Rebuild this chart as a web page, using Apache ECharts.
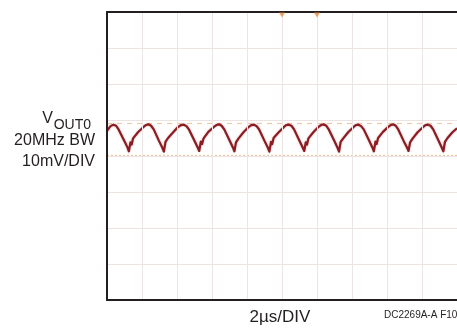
<!DOCTYPE html>
<html>
<head>
<meta charset="utf-8">
<script src="https://cdn.jsdelivr.net/npm/echarts@6/dist/echarts.min.js"></script>
<style>
html,body{margin:0;padding:0;background:#fff;}
#c{width:457px;height:331px;}
</style>
</head>
<body>
<div id="c"></div>
<script>
// time in microseconds (2 us/div), voltage in mV (10 mV/div)
var timeUs = [
 0.00, 0.20,
 0.37, 0.52, 0.67, 0.97, 1.17, 1.25, 1.34, 1.41, 1.49, 1.77, 2.07, 2.22,
 2.37, 2.52, 2.67, 2.97, 3.17, 3.25, 3.34, 3.41, 3.49, 3.77, 4.07, 4.24,
 4.39, 4.54, 4.69, 4.99, 5.19, 5.27, 5.36, 5.43, 5.51, 5.79, 6.09, 6.25,
 6.40, 6.55, 6.70, 7.00, 7.20, 7.28, 7.37, 7.44, 7.52, 7.80, 8.10, 8.25,
 8.40, 8.55, 8.70, 9.00, 9.20, 9.28, 9.37, 9.44, 9.52, 9.80, 10.10, 10.24,
 10.39, 10.54, 10.69, 10.99, 11.19, 11.27, 11.36, 11.43, 11.51, 11.79, 12.09, 12.23,
 12.38, 12.53, 12.68, 12.98, 13.18, 13.26, 13.35, 13.42, 13.50, 13.78, 14.08, 14.22,
 14.37, 14.52, 14.67, 14.97, 15.17, 15.25, 15.34, 15.41, 15.49, 15.77, 16.07, 16.21,
 16.35, 16.50, 16.65, 16.95, 17.15, 17.23, 17.32, 17.39, 17.47, 17.75, 18.05, 18.20,
 18.34, 18.49, 18.64, 18.94, 19.14, 19.22, 19.31, 19.38, 19.46, 19.74, 20.00
];
var voutMv = [
 7.0, 8.3,
 8.7, 8.4, 7.3, 4.4, 2.4, 1.3, 3.8, 3.2, 4.9, 6.6, 8.0, 8.6,
 8.8, 8.4, 7.4, 4.2, 2.2, 1.2, 3.9, 3.4, 5.0, 6.5, 8.1, 8.6,
 8.7, 8.3, 7.3, 4.3, 2.3, 1.4, 4.0, 3.3, 4.8, 6.7, 8.0, 8.6,
 8.8, 8.4, 7.4, 4.4, 2.3, 1.3, 3.8, 3.4, 4.9, 6.6, 8.1, 8.6,
 8.7, 8.3, 7.3, 4.2, 2.2, 1.2, 3.9, 3.3, 5.0, 6.5, 8.0, 8.6,
 8.7, 8.4, 7.4, 4.3, 2.3, 1.4, 3.8, 3.2, 4.9, 6.6, 8.1, 8.6,
 8.8, 8.4, 7.3, 4.3, 2.2, 1.2, 3.9, 3.4, 4.9, 6.6, 8.0, 8.6,
 8.7, 8.3, 7.4, 4.4, 2.3, 1.3, 4.0, 3.3, 5.0, 6.7, 8.1, 8.6,
 8.8, 8.4, 7.3, 4.2, 2.3, 1.4, 3.8, 3.3, 4.9, 6.6, 8.0, 8.6,
 8.7, 8.4, 7.4, 4.3, 2.2, 1.3, 3.9, 3.4, 5.0, 6.6, 7.7
];
var cursorUpperMv = 9.0;
var cursorLowerMv = 0.2;
var refLineMv = 10;
var triggerMarkersUs = [10, 12];
var xRange = [0, 20, 2];
var yRange = [-40, 40, 10];

var seriesData = timeUs.map(function (t, i) { return [t, voutMv[i]]; });
var markerData = triggerMarkersUs.map(function (t) { return [t, yRange[1]]; });

var chart = echarts.init(document.getElementById('c'), null, {renderer: 'canvas'});
var hLine = {show: true, lineStyle: {color: '#ece2df', width: 1}};
var vLine = {show: true, lineStyle: {color: '#ebe5e5', width: 1}};
var frame = {show: true, onZero: false, lineStyle: {color: '#231f20', width: 2}};
chart.setOption({
  animation: false,
  backgroundColor: '#ffffff',
  grid: {left: 107, top: 12, width: 353, height: 288, show: false},
  xAxis: [
    {type: 'value', position: 'bottom', min: xRange[0], max: xRange[1], interval: xRange[2],
      axisLine: frame, axisTick: {show: false}, axisLabel: {show: false}, splitLine: vLine, z: 10},
    {type: 'value', position: 'top', min: xRange[0], max: xRange[1], interval: xRange[2],
      axisLine: frame, axisTick: {show: false}, axisLabel: {show: false}, splitLine: {show: false}, z: 10}
  ],
  yAxis: {type: 'value', min: yRange[0], max: yRange[1], interval: yRange[2],
    axisLine: frame, axisTick: {show: false}, axisLabel: {show: false}, splitLine: hLine, z: 10},
  series: [
    {
      type: 'line', data: seriesData, showSymbol: false, symbol: 'none', silent: true,
      lineStyle: {color: '#8c1c22', width: 2.2, join: 'round', shadowColor: 'rgba(140,28,34,0.35)', shadowBlur: 2},
      z: 5,
      markLine: {
        silent: true, symbol: 'none', label: {show: false},
        data: [
          {yAxis: refLineMv, lineStyle: {color: '#d5e3ec', type: 'solid', width: 1}},
          {yAxis: cursorUpperMv, lineStyle: {color: '#f3c9a4', type: [5, 5], width: 1.2}},
          {yAxis: cursorLowerMv, lineStyle: {color: '#f3c9a4', type: [2, 2], width: 1.4}}
        ]
      }
    },
    {
      type: 'scatter', data: markerData, symbol: 'triangle', symbolRotate: 180, symbolSize: [6, 5],
      symbolOffset: [0, 3], itemStyle: {color: '#e98a3c'}, clip: false, silent: true, z: 11
    }
  ],
  graphic: [
    {type: 'text', x: 53, y: 119, style: {text: 'V', fontFamily: 'Liberation Sans, Arial', fontSize: 16, fill: '#231f20', textAlign: 'right', textVerticalAlign: 'middle'}},
    {type: 'text', x: 91, y: 125, style: {text: 'OUT0', fontFamily: 'Liberation Sans, Arial', fontSize: 14, fill: '#231f20', textAlign: 'right', textVerticalAlign: 'middle'}},
    {type: 'text', x: 95, y: 141, style: {text: '20MHz BW', fontFamily: 'Liberation Sans, Arial', fontSize: 16, fill: '#231f20', textAlign: 'right', textVerticalAlign: 'middle'}},
    {type: 'text', x: 95, y: 162, style: {text: '10mV/DIV', fontFamily: 'Liberation Sans, Arial', fontSize: 16, fill: '#231f20', textAlign: 'right', textVerticalAlign: 'middle'}},
    {type: 'text', x: 280, y: 317, style: {text: '2µs/DIV', fontFamily: 'Liberation Sans, Arial', fontSize: 17, fill: '#231f20', textAlign: 'center', textVerticalAlign: 'middle'}},
    {type: 'text', x: 384, y: 315, style: {text: 'DC2269A-A F10', fontFamily: 'Liberation Sans Narrow, Liberation Sans, Arial', fontSize: 10, fill: '#231f20', textAlign: 'left', textVerticalAlign: 'middle'}}
  ]
});
</script>
</body>
</html>
